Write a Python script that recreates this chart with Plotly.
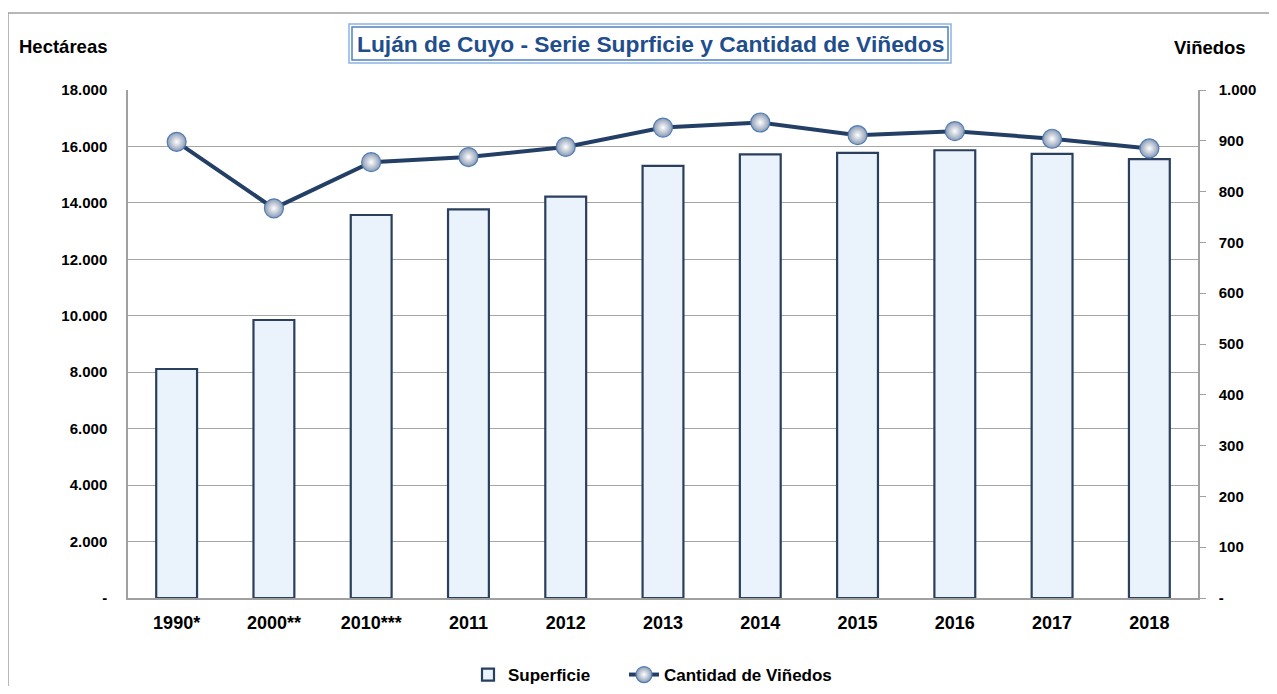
import plotly.graph_objects as go

categories = ["1990*", "2000**", "2010***", "2011", "2012", "2013", "2014", "2015", "2016", "2017", "2018"]
superficie = [8115, 9850, 13570, 13770, 14220, 15310, 15720, 15770, 15865, 15735, 15550]
vinedos = [898, 767, 858, 868, 888, 926, 936, 911, 919, 904, 885]

left_vals = [0, 2000, 4000, 6000, 8000, 10000, 12000, 14000, 16000, 18000]
left_text = ["-", "2.000", "4.000", "6.000", "8.000", "10.000", "12.000", "14.000", "16.000", "18.000"]
right_vals = [0, 100, 200, 300, 400, 500, 600, 700, 800, 900, 1000]
right_text = ["-", "100", "200", "300", "400", "500", "600", "700", "800", "900", "1.000"]

FONT = "Arial, Liberation Sans, sans-serif"
OFF = 8  # default page body margin
W, H = 1277 - 2 * OFF, 694 - 2 * OFF
# plot area in screen pixels
SL, SR, ST, SB = 128, 1198, 90, 598
L, R, T, B = SL - OFF, SR - OFF, ST - OFF, SB - OFF


def px(sx):
    return (sx - SL) / (SR - SL)


def py(sy):
    return (SB - sy) / (SB - ST)


fig = go.Figure()
fig.add_trace(go.Bar(
    x=categories, y=superficie, name="Superficie", width=0.42,
    marker=dict(color="#eaf3fc", line=dict(color="#2a3f5e", width=2.2)),
    yaxis="y", legend="legend",
))
fig.add_trace(go.Scatter(
    x=categories, y=vinedos, name="Cantidad de Viñedos", mode="lines+markers",
    line=dict(color="#243f66", width=4),
    marker=dict(size=19, color="#8a9ab2",
                gradient=dict(type="radial", color="#ffffff"),
                line=dict(color="#4f7cb8", width=1.2)),
    yaxis="y2", legend="legend2",
))

legend_font = dict(size=17, family=FONT, color="black", weight="bold")

fig.update_layout(
    width=W, height=H,
    margin=dict(l=L, r=W - R, t=T, b=H - B, autoexpand=False),
    paper_bgcolor="white", plot_bgcolor="white",
    font=dict(family=FONT, size=15, color="black"),
    showlegend=True,
    legend=dict(orientation="h", x=px(468), y=py(675), xanchor="left", yanchor="middle",
                font=legend_font, bgcolor="rgba(0,0,0,0)"),
    legend2=dict(orientation="h", x=px(624), y=py(675), xanchor="left", yanchor="middle",
                 font=legend_font, bgcolor="rgba(0,0,0,0)"),
    xaxis=dict(
        range=[-0.5, 10.5],
        showline=True, linecolor="#a0a0a0", linewidth=1.5, showgrid=False, ticks="",
        tickfont=dict(size=18, family=FONT, weight="bold"), ticklabelstandoff=8,
    ),
    yaxis=dict(
        range=[0, 18000], tickvals=left_vals, ticktext=left_text,
        showgrid=True, gridcolor="#a6a6a6", gridwidth=1,
        showline=True, linecolor="#a0a0a0", linewidth=1.5, ticks="",
        tickfont=dict(size=15, family=FONT, weight="bold"), ticklabelstandoff=16,
        zeroline=False,
    ),
    yaxis2=dict(
        range=[0, 1000], tickvals=right_vals, ticktext=right_text, overlaying="y", side="right",
        showgrid=False, showline=True, linecolor="#a0a0a0", linewidth=1.5,
        ticks="outside", ticklen=6, tickcolor="#a0a0a0",
        tickfont=dict(size=15, family=FONT, weight="bold"), ticklabelstandoff=10,
        zeroline=False,
    ),
    shapes=[
        dict(type="rect", xref="paper", yref="paper", x0=px(8), x1=px(1300), y0=py(13), y1=py(720),
             line=dict(color="#a0a0a0", width=1.5), fillcolor="rgba(0,0,0,0)", layer="below"),
        dict(type="rect", xref="paper", yref="paper", x0=px(349), x1=px(951), y0=py(24), y1=py(63),
             line=dict(color="#8db3e2", width=1.5), fillcolor="white"),
        dict(type="rect", xref="paper", yref="paper", x0=px(352), x1=px(948), y0=py(27), y1=py(60),
             line=dict(color="#4f81bd", width=1.5), fillcolor="rgba(0,0,0,0)"),
    ],
    annotations=[
        dict(text="<b>Luján de Cuyo - Serie Suprficie y Cantidad de Viñedos</b>", xref="paper", yref="paper",
             x=px(650), y=py(44), xanchor="center", yanchor="middle", showarrow=False,
             font=dict(size=22.8, family=FONT, color="#1f4e8c")),
        dict(text="<b>Hectáreas</b>", xref="paper", yref="paper", x=px(17), y=py(47),
             xanchor="left", yanchor="middle", showarrow=False, font=dict(size=18.5, family=FONT, color="black")),
        dict(text="<b>Viñedos</b>", xref="paper", yref="paper", x=px(1172), y=py(48),
             xanchor="left", yanchor="middle", showarrow=False, font=dict(size=18.5, family=FONT, color="black")),
    ],
)

fig.write_html("out.html")
